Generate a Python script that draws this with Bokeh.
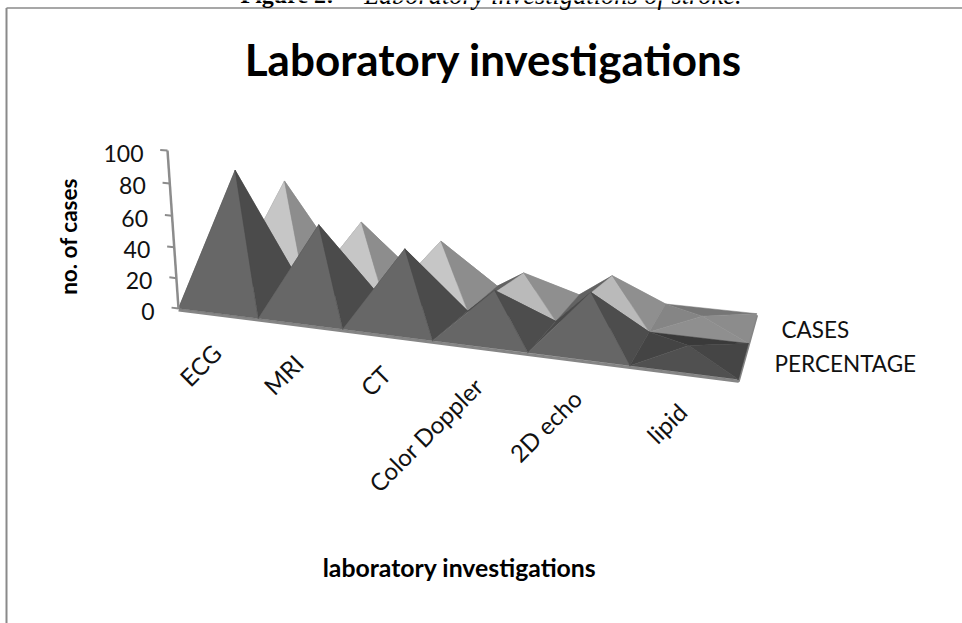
from bokeh.core.properties import value
from bokeh.embed import file_html
from bokeh.models import ColumnDataSource
from bokeh.plotting import figure
from bokeh.resources import INLINE

# ---- data ----
categories = ["ECG", "MRI", "CT", "Color Doppler", "2D echo", "lipid"]
percentage = [85, 55, 45, 25, 30, 5]   # front row
cases = [68, 44, 36, 20, 24, 4]        # rear row
ticks = [0, 20, 40, 60, 80, 100]

# ---- face shades per pyramid ----
rear_back = ["#8a8a8a"] * 5 + ["#767676"]
rear_left = ["#8a8a8a", "#8a8a8a", "#8a8a8a", "#626262", "#626262", "#858585"]
rear_front = ["#c6c6c6", "#c6c6c6", "#c6c6c6", "#bababa", "#bababa", "#8f8f8f"]
rear_right = ["#8d8d8d", "#8d8d8d", "#8d8d8d", "#8f8f8f", "#8f8f8f", "#8c8c8c"]
front_back = ["#4a4a4a"] * 5 + ["#3a3a3a"]
front_left = ["#4a4a4a"] * 5 + ["#444444"]
front_front = ["#676767", "#676767", "#676767", "#666666", "#666666", "#505050"]
front_right = ["#4b4b4b", "#4b4b4b", "#4b4b4b", "#4d4d4d", "#4d4d4d", "#454545"]


# ---- perspective projection: category, depth row, value -> page pixels ----
def project(cat, depth, val):
    z = val / 100.0
    w = 1 - 0.02832 * cat + 0.085 * depth - 0.05 * z
    return ((178 + 72.43 * cat + 71.9 * depth - 19.35 * z) / w,
            (308 + 1.1 * cat - 0.7 * depth - 165.5 * z) / w)


def pyramid(i, row, v):
    a = project(i, row, 0)
    b = project(i + 1, row, 0)
    c = project(i + 1, row + 1, 0)
    d = project(i, row + 1, 0)
    t = project(i + 0.47, row + 0.5, v)
    return [(d, c, t), (a, d, t), (a, b, t), (b, c, t)]  # back, left, front, right


xs, ys, fills = [], [], []
rows = [
    (1, cases, (rear_back, rear_left, rear_front, rear_right)),
    (0, percentage, (front_back, front_left, front_front, front_right)),
]
for row, vals, shades in rows:
    for i, v in enumerate(vals):
        for tri, shade in zip(pyramid(i, row, v), shades):
            xs.append([q[0] for q in tri])
            ys.append([q[1] for q in tri])
            fills.append(shade[i])

p = figure(width=962, height=623, x_range=(0, 962), y_range=(623, 0),
           output_backend="svg", toolbar_location=None, min_border=0,
           x_axis_type=None, y_axis_type=None, outline_line_color=None,
           background_fill_color="white", border_fill_color="white")
p.grid.visible = False

# frame of the embedded chart
p.line([6, 962], [7.5, 7.5], line_color="#8a8a8a", line_width=1.5)
p.line([6, 6], [7.5, 623], line_color="#8a8a8a", line_width=2)

# floor edge below the pyramids
edge = [project(0, 0, -1), project(6, 0, -1), project(6, 2, -1)]
p.line([q[0] for q in edge], [q[1] for q in edge], line_color="#858585", line_width=3)

p.patches("xs", "ys", fill_color="fills", line_color="fills", line_width=0.5,
          source=ColumnDataSource(dict(xs=xs, ys=ys, fills=fills)))

# value axis
top = project(0, 0, 100)
base = project(0, 0, 0)
p.line([base[0], top[0]], [base[1], top[1]], line_color="#8c8c8c", line_width=2.5)
tick_x, tick_y, lab_x, lab_y = [], [], [], []
for t in ticks:
    a = project(-0.09, 0, t)
    b = project(0, 0, t)
    tick_x.append([a[0], b[0]])
    tick_y.append([a[1], b[1]])
    lab_x.append(b[0] - 24)
    lab_y.append(b[1] + 2.5)
p.multi_line(tick_x, tick_y, line_color="#8c8c8c", line_width=2)
p.text(lab_x, lab_y, text=[str(t) for t in ticks], text_font=value("Lato"),
       text_font_size="23px", text_color="#111111", text_align="right",
       text_baseline="alphabetic")

# category labels
cx, cy = [], []
for i in range(len(categories)):
    q = project(i + 0.5, 0, 0)
    cx.append(q[0] - 1)
    cy.append(q[1] + 35)
p.text(cx, cy, text=categories, text_font=value("Lato"), text_font_size="24px",
       text_color="#111111", text_align="right", text_baseline="middle",
       angle=45, angle_units="deg")

# titles and legend
p.text([493], [58], text=["Laboratory investigations"], text_font=value("Lato"),
       text_font_style="bold", text_font_size="44px", text_color="black",
       text_align="center", text_baseline="alphabetic")
p.text([68], [236], text=["no. of cases"], text_font=value("Lato"),
       text_font_style="bold", text_font_size="22.5px", text_color="black",
       text_align="center", text_baseline="middle", angle=90, angle_units="deg")
p.text([459], [567], text=["laboratory investigations"], text_font=value("Lato"),
       text_font_style="bold", text_font_size="24.8px", text_color="black",
       text_align="center", text_baseline="alphabetic")
p.text([781, 774], [329, 363], text=["CASES", "PERCENTAGE"], text_font=value("Lato"),
       text_font_size="22.5px", text_color="#111111", text_align="left",
       text_baseline="alphabetic")

# clipped caption above the chart
p.text([240], [-6], text=["Figure 2:"], text_font=value("Liberation Serif"),
       text_font_style="bold", text_font_size="24px", text_color="black",
       text_align="left", text_baseline="alphabetic")
p.text([741], [-6], text=["Laboratory investigations of stroke."],
       text_font=value("Liberation Serif"), text_font_style="italic",
       text_font_size="26.4px", text_color="black", text_align="right",
       text_baseline="alphabetic")

open("out.html", "w").write(file_html(p, INLINE))
